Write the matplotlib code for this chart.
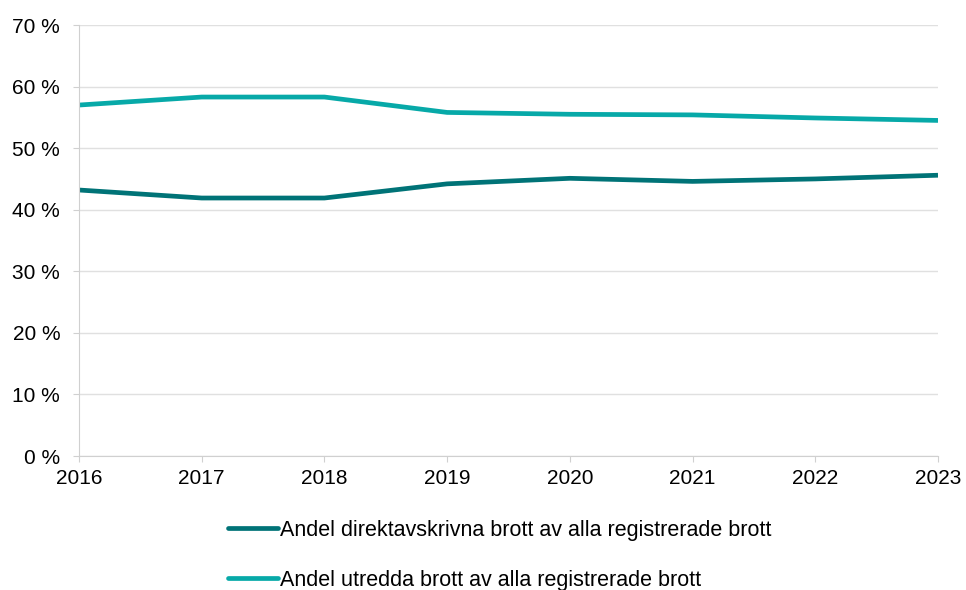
import matplotlib.pyplot as plt
from matplotlib.ticker import FuncFormatter

plt.rcParams['font.family'] = ['Liberation Sans', 'DejaVu Sans']

years = [2016, 2017, 2018, 2019, 2020, 2021, 2022, 2023]
direktavskrivna = [43.2, 41.9, 41.9, 44.2, 45.1, 44.6, 45.0, 45.6]
utredda = [57.0, 58.3, 58.3, 55.8, 55.5, 55.4, 54.9, 54.5]

labels = ['Andel direktavskrivna brott av alla registrerade brott',
          'Andel utredda brott av alla registrerade brott']
colors = ['#007377', '#07A9A8']

fig = plt.figure(figsize=(9.66, 5.9), dpi=100)
ax = fig.add_axes([79/966, 1-456/590, 859/966, 431/590])

ax.plot(years, direktavskrivna, color=colors[0], lw=3.4, label=labels[0], solid_capstyle='butt')
ax.plot(years, utredda, color=colors[1], lw=3.4, label=labels[1], solid_capstyle='butt')

ax.set_xlim(2016, 2023)
ax.set_ylim(0, 70)
ax.set_yticks(range(0, 71, 10))
ax.set_xticks(years)
ax.yaxis.set_major_formatter(FuncFormatter(lambda v, p: f'{int(v)} %'))
ax.grid(axis='y', color='#e0e0e0', lw=1)
ax.set_axisbelow(True)
for s in ['top', 'right']:
    ax.spines[s].set_visible(False)
for s in ['left', 'bottom']:
    ax.spines[s].set_color('#d0d0d0')
ax.tick_params(axis='both', colors='#d0d0d0', labelcolor='black', labelsize=15, length=4.5)
ax.tick_params(axis='y', pad=9)
ax.tick_params(axis='x', pad=5)

leg = fig.legend(loc='upper center', bbox_to_anchor=(500/966, 1-511/590), ncol=1, frameon=False,
                 fontsize=15.5, handlelength=2.3, handletextpad=0.1, labelspacing=1.36,
                 borderaxespad=0)
for h in leg.get_lines():
    h.set_solid_capstyle('round')

fig.savefig('out.png', dpi=100)
